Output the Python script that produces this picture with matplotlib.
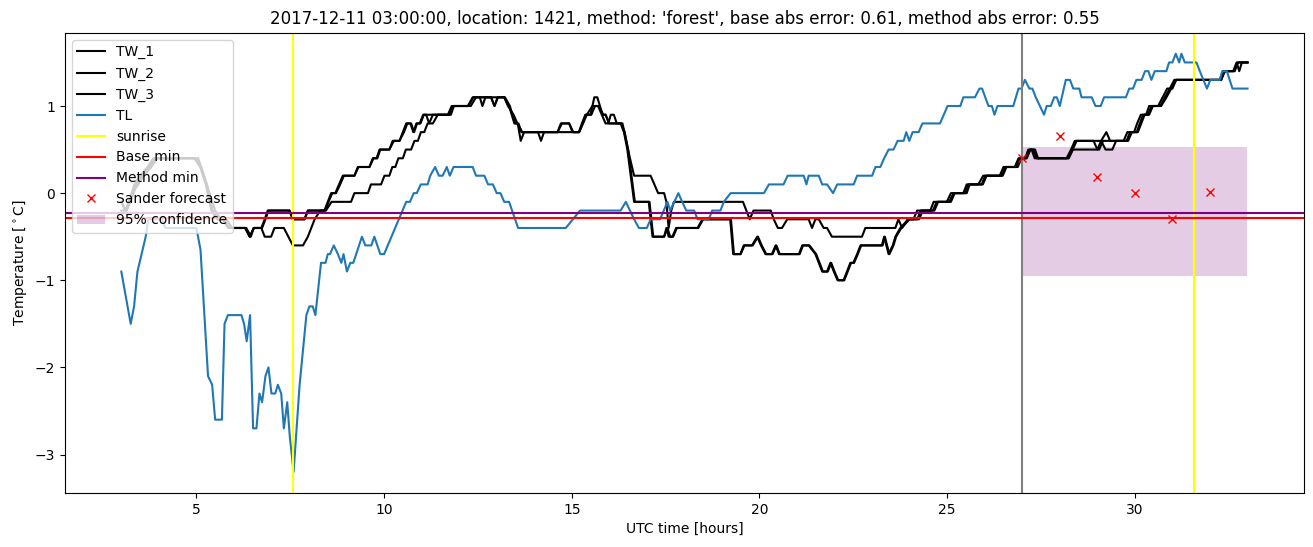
import numpy as np
import matplotlib
matplotlib.use("Agg")
import matplotlib.pyplot as plt

# (hour, temperature)
tl = [(3.0, -0.9), (3.25, -1.5), (3.34, -1.3), (3.43, -0.9), (3.54, -0.7), (3.65, -0.5),
      (3.72, -0.3), (4.08, -0.3), (4.17, -0.4), (5.0, -0.4), (5.11, -0.65), (5.31, -2.1),
      (5.42, -2.2), (5.5, -2.6), (5.68, -2.6), (5.75, -1.5), (5.84, -1.4), (6.2, -1.4),
      (6.27, -1.5), (6.34, -1.7), (6.43, -1.4), (6.51, -2.7), (6.6, -2.7), (6.68, -2.3),
      (6.75, -2.4), (6.84, -2.1), (6.92, -2.0), (7.0, -2.3), (7.1, -2.3), (7.17, -2.2),
      (7.26, -2.3), (7.33, -2.7), (7.42, -2.4), (7.49, -2.8), (7.59, -3.2), (7.75, -2.2),
      (7.93, -1.4), (8.01, -1.3), (8.1, -1.3), (8.17, -1.4), (8.32, -0.8), (8.44, -0.8),
      (8.5, -0.7), (8.56, -0.7), (8.66, -0.6), (8.77, -0.7), (8.86, -0.8), (8.92, -0.7),
      (9.01, -0.9), (9.1, -0.8), (9.18, -0.8), (9.41, -0.5), (9.5, -0.6), (9.66, -0.6),
      (9.74, -0.5), (9.9, -0.7), (10.0, -0.7), (10.59, -0.1), (10.69, -0.1), (10.79, 0.0),
      (10.87, 0.0), (10.98, 0.1), (11.16, 0.1), (11.23, 0.2), (11.36, 0.3), (11.46, 0.2),
      (11.56, 0.2), (11.67, 0.3), (11.75, 0.2), (11.85, 0.3), (12.36, 0.3), (12.45, 0.2),
      (12.67, 0.2), (12.77, 0.1), (12.9, 0.1), (13.0, 0.0), (13.1, 0.0), (13.2, -0.1),
      (13.33, -0.1), (13.57, -0.4), (14.84, -0.4), (15.22, -0.2), (16.3, -0.2), (16.44, -0.1),
      (16.66, -0.3), (16.79, -0.4), (17.0, -0.4), (17.1, -0.3), (17.35, -0.3), (17.45, -0.2),
      (17.55, -0.1), (17.62, -0.2), (17.84, 0.0), (17.94, -0.1), (18.05, -0.2), (18.26, -0.2),
      (18.35, -0.3), (18.65, -0.3), (18.74, -0.2), (18.96, -0.2), (19.05, -0.1), (19.23, 0.0),
      (20.12, 0.0), (20.25, 0.1), (20.64, 0.1), (20.75, 0.2), (21.18, 0.2), (21.25, 0.1),
      (21.31, 0.2), (21.58, 0.2), (21.67, 0.1), (21.8, 0.1), (21.96, 0.0), (22.07, 0.1),
      (22.51, 0.1), (22.6, 0.2), (23.0, 0.2), (23.09, 0.3), (23.22, 0.3), (23.32, 0.4),
      (23.44, 0.5), (23.57, 0.5), (23.68, 0.6), (23.84, 0.6), (23.91, 0.7), (23.99, 0.6),
      (24.08, 0.7), (24.24, 0.7), (24.34, 0.8), (24.81, 0.8), (25.01, 1.0), (25.35, 1.0),
      (25.43, 1.1), (25.74, 1.1), (25.86, 1.2), (25.93, 1.2), (26.1, 1.0), (26.19, 1.0),
      (26.26, 0.9), (26.34, 1.0), (26.76, 1.0), (26.9, 1.2), (26.98, 1.2), (27.07, 1.3),
      (27.19, 1.2), (27.27, 1.2), (27.36, 1.1), (27.47, 1.0), (27.58, 0.9), (27.65, 1.0),
      (27.76, 1.0), (27.85, 1.1), (27.92, 1.1), (28.0, 1.0), (28.16, 1.3), (28.27, 1.3),
      (28.36, 1.2), (28.52, 1.2), (28.58, 1.1), (28.85, 1.1), (28.95, 1.0), (29.09, 1.0),
      (29.18, 1.1), (29.76, 1.1), (29.85, 1.2), (29.95, 1.2), (30.04, 1.3), (30.18, 1.3),
      (30.27, 1.4), (30.36, 1.4), (30.44, 1.3), (30.53, 1.4), (30.84, 1.4), (30.91, 1.5),
      (31.0, 1.5), (31.09, 1.6), (31.18, 1.5), (31.24, 1.6), (31.33, 1.5), (31.64, 1.5),
      (31.73, 1.4), (31.92, 1.2), (32.01, 1.3), (32.26, 1.3), (32.33, 1.4), (32.45, 1.4),
      (32.6, 1.2), (33.0, 1.2)]

tw1 = [(3.0, -0.1), (3.1, -0.2), (3.2, -0.1), (3.35, 0.1), (3.5, 0.2), (3.7, 0.3),
       (3.85, 0.4), (4.95, 0.4), (5.1, 0.3), (5.25, 0.1), (5.4, -0.2), (5.55, -0.3),
       (5.7, -0.3), (5.85, -0.4), (6.3, -0.4), (6.42, -0.5), (6.53, -0.4), (6.73, -0.4),
       (6.82, -0.3), (6.9, -0.2), (7.48, -0.2), (7.57, -0.3), (7.88, -0.3), (7.97, -0.2),
       (8.41, -0.2), (8.5, -0.1), (8.59, 0.0), (8.7, 0.0), (8.8, 0.1), (8.9, 0.2),
       (9.21, 0.2), (9.3, 0.3), (9.61, 0.3), (9.7, 0.4), (9.8, 0.4), (9.88, 0.5),
       (10.14, 0.5), (10.23, 0.6), (10.41, 0.6), (10.5, 0.7), (10.59, 0.8), (10.7, 0.8),
       (10.78, 0.7), (10.86, 0.8), (10.95, 0.8), (11.04, 0.9), (11.12, 0.9), (11.2, 0.8),
       (11.3, 0.9), (11.75, 0.9), (11.83, 1.0), (12.23, 1.0), (12.36, 1.1), (12.85, 1.1),
       (12.94, 1.0), (13.03, 1.1), (13.2, 1.1), (13.33, 1.0), (13.47, 0.8), (13.56, 0.8),
       (13.64, 0.6), (13.73, 0.7), (14.1, 0.7), (14.18, 0.6), (14.26, 0.7), (14.62, 0.7),
       (14.71, 0.8), (14.93, 0.8), (15.02, 0.7), (15.19, 0.7), (15.27, 0.8), (15.36, 0.9),
       (15.5, 0.9), (15.6, 1.1), (15.68, 1.1), (15.82, 0.9), (15.9, 0.9), (15.99, 0.8),
       (16.3, 0.8), (16.39, 0.7), (16.48, 0.5), (16.57, 0.2), (16.66, -0.1), (17.05, -0.1),
       (17.15, -0.5), (17.46, -0.5), (17.52, -0.4), (17.58, -0.5), (17.68, -0.5), (17.78, -0.4),
       (18.35, -0.4), (18.48, -0.3), (19.22, -0.3), (19.3, -0.7), (19.49, -0.7), (19.58, -0.6),
       (19.8, -0.6), (19.94, -0.5), (20.04, -0.6), (20.16, -0.7), (20.33, -0.7), (20.43, -0.6),
       (20.52, -0.7), (21.05, -0.7), (21.14, -0.6), (21.31, -0.6), (21.49, -0.7), (21.58, -0.8),
       (21.67, -0.9), (21.8, -0.9), (21.89, -0.8), (21.98, -0.9), (22.08, -1.0), (22.24, -1.0),
       (22.33, -0.9), (22.42, -0.8), (22.5, -0.8), (22.6, -0.7), (22.69, -0.6), (23.26, -0.6),
       (23.32, -0.5), (23.44, -0.7), (23.55, -0.6), (23.62, -0.5), (23.75, -0.4), (23.97, -0.3),
       (24.2, -0.3), (24.3, -0.2), (24.62, -0.2), (24.72, -0.1), (25.05, -0.1), (25.17, 0.0),
       (25.48, 0.0), (25.57, 0.1), (25.92, 0.1), (26.01, 0.2), (26.45, 0.2), (26.54, 0.3),
       (26.85, 0.3), (26.94, 0.4), (27.1, 0.4), (27.2, 0.5), (27.3, 0.5), (27.38, 0.4),
       (28.18, 0.4), (28.3, 0.5), (28.4, 0.6), (28.9, 0.6), (29.0, 0.5), (29.1, 0.6),
       (29.24, 0.7), (29.34, 0.6), (29.78, 0.6), (29.87, 0.7), (30.05, 0.7), (30.13, 0.8),
       (30.22, 0.9), (30.35, 0.9), (30.44, 1.0), (30.68, 1.0), (30.8, 1.1), (30.93, 1.2),
       (31.05, 1.3), (32.26, 1.3), (32.35, 1.4), (32.62, 1.4), (32.71, 1.5), (32.78, 1.4),
       (32.85, 1.5), (33.0, 1.5)]

tw2 = [(3.0, -0.1), (3.12, -0.2), (3.25, -0.1), (3.4, 0.1), (3.55, 0.2), (3.74, 0.3),
       (3.9, 0.4), (4.98, 0.4), (5.13, 0.3), (5.28, 0.1), (5.43, -0.2), (5.58, -0.3),
       (5.72, -0.3), (5.88, -0.4), (6.3, -0.4), (6.42, -0.5), (6.53, -0.4), (6.75, -0.4),
       (6.84, -0.3), (6.92, -0.2), (7.48, -0.2), (7.57, -0.3), (7.88, -0.3), (7.97, -0.2),
       (8.43, -0.2), (8.52, -0.1), (8.62, 0.0), (8.72, 0.0), (8.83, 0.1), (8.93, 0.2),
       (9.21, 0.2), (9.32, 0.3), (9.61, 0.3), (9.72, 0.4), (9.82, 0.4), (9.9, 0.5),
       (10.14, 0.5), (10.26, 0.6), (10.41, 0.6), (10.53, 0.7), (10.62, 0.8), (10.72, 0.8),
       (10.8, 0.7), (10.88, 0.8), (10.97, 0.8), (11.06, 0.9), (11.3, 0.9), (11.78, 0.9),
       (11.86, 1.0), (12.25, 1.0), (12.38, 1.1), (12.85, 1.1), (12.94, 1.0), (13.03, 1.1),
       (13.22, 1.1), (13.35, 1.0), (13.49, 0.8), (13.58, 0.8), (13.66, 0.7), (14.62, 0.7),
       (14.74, 0.8), (14.93, 0.8), (15.04, 0.7), (15.19, 0.7), (15.29, 0.8), (15.38, 0.9),
       (15.52, 0.9), (15.62, 1.0), (15.72, 1.0), (15.84, 0.9), (15.9, 0.9), (16.0, 0.8),
       (16.32, 0.8), (16.41, 0.7), (16.5, 0.5), (16.59, 0.2), (16.68, -0.1), (17.07, -0.1),
       (17.17, -0.5), (17.46, -0.5), (17.55, -0.4), (17.62, -0.5), (17.7, -0.5), (17.8, -0.4),
       (18.37, -0.4), (18.5, -0.3), (19.24, -0.3), (19.32, -0.7), (19.5, -0.7), (19.6, -0.6),
       (19.82, -0.6), (19.96, -0.5), (20.06, -0.6), (20.18, -0.7), (20.35, -0.7), (20.45, -0.6),
       (20.54, -0.7), (21.07, -0.7), (21.16, -0.6), (21.33, -0.6), (21.51, -0.7), (21.6, -0.8),
       (21.69, -0.9), (21.82, -0.9), (21.91, -0.8), (22.0, -0.9), (22.1, -1.0), (22.26, -1.0),
       (22.35, -0.9), (22.44, -0.8), (22.52, -0.8), (22.62, -0.7), (22.71, -0.6), (23.28, -0.6),
       (23.34, -0.5), (23.46, -0.7), (23.57, -0.6), (23.64, -0.5), (23.78, -0.4), (24.0, -0.3),
       (24.25, -0.3), (24.35, -0.2), (24.66, -0.2), (24.76, -0.1), (25.1, -0.1), (25.2, 0.0),
       (25.52, 0.0), (25.6, 0.1), (25.95, 0.1), (26.05, 0.2), (26.48, 0.2), (26.58, 0.3),
       (26.88, 0.3), (26.98, 0.4), (27.12, 0.4), (27.22, 0.5), (27.34, 0.5), (27.42, 0.4),
       (28.22, 0.4), (28.34, 0.5), (28.45, 0.6), (29.1, 0.6), (29.22, 0.5), (29.4, 0.5),
       (29.5, 0.6), (29.82, 0.6), (29.92, 0.7), (30.08, 0.7), (30.17, 0.8), (30.26, 0.9),
       (30.38, 0.9), (30.48, 1.0), (30.7, 1.0), (30.84, 1.1), (30.97, 1.2), (31.1, 1.3),
       (32.3, 1.3), (32.38, 1.4), (32.64, 1.4), (32.74, 1.5), (33.0, 1.5)]

tw3 = [(3.0, -0.2), (3.15, -0.2), (3.3, 0.0), (3.45, 0.1), (3.6, 0.2), (3.8, 0.3),
       (3.95, 0.4), (5.05, 0.4), (5.2, 0.2), (5.35, 0.0), (5.5, -0.2), (5.65, -0.3),
       (5.8, -0.3), (5.95, -0.4), (6.33, -0.4), (6.45, -0.5), (6.53, -0.4), (6.73, -0.4),
       (6.82, -0.5), (6.99, -0.5), (7.08, -0.4), (7.33, -0.4), (7.45, -0.5), (7.57, -0.6),
       (7.84, -0.6), (7.97, -0.5), (8.06, -0.4), (8.15, -0.3), (8.3, -0.2), (8.45, -0.2),
       (8.6, -0.1), (9.12, -0.1), (9.21, 0.0), (9.57, 0.0), (9.65, 0.1), (9.92, 0.1),
       (10.01, 0.2), (10.14, 0.2), (10.22, 0.3), (10.3, 0.3), (10.38, 0.4), (10.5, 0.4),
       (10.58, 0.5), (10.72, 0.5), (10.81, 0.6), (10.9, 0.6), (10.98, 0.7), (11.07, 0.7),
       (11.16, 0.8), (11.3, 0.8), (11.43, 0.9), (11.7, 0.9), (11.8, 1.0), (12.31, 1.0),
       (12.45, 1.1), (12.55, 1.1), (12.62, 1.0), (12.7, 1.1), (13.2, 1.1), (13.3, 1.0),
       (13.45, 0.9), (13.55, 0.8), (13.68, 0.7), (15.2, 0.7), (15.3, 0.8), (15.4, 0.9),
       (15.55, 1.0), (15.7, 1.0), (15.8, 0.9), (15.9, 0.8), (15.97, 0.8), (16.04, 0.9),
       (16.12, 0.9), (16.2, 0.8), (16.35, 0.8), (16.45, 0.6), (16.55, 0.4), (16.66, 0.2),
       (17.1, 0.2), (17.2, 0.1), (17.3, 0.0), (17.46, 0.0), (17.52, -0.1), (17.58, -0.4),
       (17.65, -0.2), (17.72, -0.1), (19.56, -0.1), (19.74, -0.3), (19.84, -0.2), (20.3, -0.2),
       (20.38, -0.3), (20.49, -0.4), (20.6, -0.4), (20.74, -0.3), (21.31, -0.3), (21.4, -0.4),
       (21.49, -0.3), (21.58, -0.3), (21.71, -0.4), (21.8, -0.4), (21.93, -0.5), (22.73, -0.5),
       (22.82, -0.4), (23.62, -0.4), (23.7, -0.3), (23.8, -0.4), (23.95, -0.3), (24.1, -0.3),
       (24.2, -0.2), (24.55, -0.2), (24.64, -0.1), (24.99, -0.1), (25.1, 0.0), (25.43, 0.0),
       (25.52, 0.1), (25.83, 0.1), (25.96, 0.2), (26.4, 0.2), (26.5, 0.3), (26.8, 0.3),
       (26.9, 0.4), (27.08, 0.4), (27.16, 0.5), (27.25, 0.5), (27.33, 0.4), (28.24, 0.4),
       (28.35, 0.5), (29.05, 0.5), (29.15, 0.6), (29.7, 0.6), (29.8, 0.7), (29.98, 0.7),
       (30.06, 0.8), (30.16, 0.9), (30.3, 0.9), (30.38, 1.0), (30.62, 1.0), (30.74, 1.1),
       (30.86, 1.2), (31.0, 1.2), (31.1, 1.3), (32.3, 1.3), (32.4, 1.4), (32.66, 1.4),
       (32.75, 1.5), (33.0, 1.5)]

sunrise_hours = [7.58, 31.57]
forecast_start = 27.0
base_min = -0.29
method_min = -0.23
forecast_hours = [27, 28, 29, 30, 31, 32]
forecast_temp = [0.40, 0.66, 0.19, 0.0, -0.30, 0.01]
conf_hours = [27, 33]
conf_low = -0.95
conf_high = 0.53

title = ("2017-12-11 03:00:00, location: 1421, method: 'forest', "
         "base abs error: 0.61, method abs error: 0.55")

tl_t, tl_v = zip(*tl)
tw1_t, tw1_v = zip(*tw1)
tw2_t, tw2_v = zip(*tw2)
tw3_t, tw3_v = zip(*tw3)

fig, ax = plt.subplots(figsize=(13.13, 5.47), dpi=100)
fig.subplots_adjust(left=0.0495, right=0.993, top=0.94, bottom=0.099)

ax.plot(tw1_t, tw1_v, color="black", label="TW_1")
ax.plot(tw2_t, tw2_v, color="black", label="TW_2")
ax.plot(tw3_t, tw3_v, color="black", label="TW_3")
ax.plot(tl_t, tl_v, color="tab:blue", label="TL")

for i, h in enumerate(sunrise_hours):
    ax.axvline(h, color="yellow", label="sunrise" if i == 0 else None)
ax.axvline(forecast_start, color="grey")

ax.axhline(base_min, color="red", label="Base min")
ax.axhline(method_min, color="purple", label="Method min")

ax.plot(forecast_hours, forecast_temp, "rx", label="Sander forecast")
ax.fill_between(conf_hours, conf_low, conf_high, color="purple", alpha=0.2,
                linewidth=0, label="95% confidence")

ax.set_title(title)
ax.set_xlabel("UTC time [hours]")
ax.set_ylabel("Temperature [$^\\circ$C]")
ax.legend(loc="upper left")

fig.savefig("out.png", dpi=100)
